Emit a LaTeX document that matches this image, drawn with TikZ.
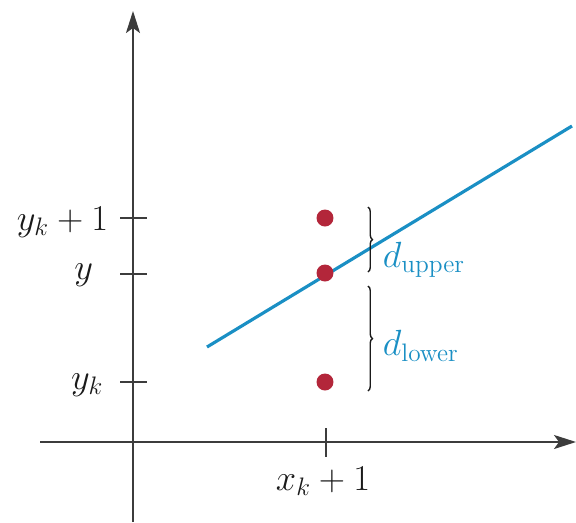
\documentclass[tikz,border=0pt]{standalone}
\usepackage{tikz}
\usetikzlibrary{positioning, arrows.meta, decorations.pathreplacing}
\definecolor{ink}{HTML}{1A1A1A}
\definecolor{lineBlue}{HTML}{1A8FC4}
\definecolor{dotRed}{HTML}{B3263A}

\begin{document}
\begin{tikzpicture}[x=0.02cm, y=-0.02cm,
    axis/.style={-{Stealth[length=0.44cm, width=0.28cm, inset=0.1cm]},
                 line width=1.1pt, draw=ink!85},
    tickmark/.style={line width=1.1pt, draw=ink!85},
    pt/.style={circle, fill=dotRed, inner sep=0pt, minimum size=0.34cm},
    lab/.style={font=\fontsize{22}{26}\selectfont, inner sep=2pt, text=ink},
    brc/.style={decorate, decoration={brace, amplitude=0.09cm},
                line width=0.8pt, draw=ink},
    dl/.style={lab, text=lineBlue, anchor=west},
    fit line/.style={line width=1.8pt, draw=lineBlue}]

  \useasboundingbox (0,0) rectangle (576,522);

  % axes
  \coordinate (xa) at (40,442);   \coordinate (xb) at (576,442);
  \coordinate (ya) at (133,522);  \coordinate (yb) at (133,11);
  \draw[axis] (xa) -- (xb);
  \draw[axis] (ya) -- (yb);

  % ticks and their labels
  \coordinate (t1) at (120,218);  \coordinate (t1e) at (147,218);
  \coordinate (t2) at (120,274);  \coordinate (t2e) at (147,274);
  \coordinate (t3) at (120,382);  \coordinate (t3e) at (147,382);
  \coordinate (tx) at (326,428);  \coordinate (txe) at (326,457);
  \draw[tickmark] (t1) -- (t1e);
  \draw[tickmark] (t2) -- (t2e);
  \draw[tickmark] (t3) -- (t3e);
  \draw[tickmark] (tx) -- (txe);
  \node[lab, anchor=east] (ykone) at (112,222) {$y_k + 1$};
  \node[lab, anchor=east] (ylab)  at (97,275)  {$y$};
  \node[lab, anchor=east] (yk)    at (107,385) {$y_k$};
  \node[lab]              (xkone) at (323,481) {$x_k + 1$};

  % line and candidate pixels
  \coordinate (la) at (207,347);  \coordinate (lb) at (572,126);
  \draw[fit line] (la) -- (lb);
  \node[pt] (upper) at (325,218) {};
  \node[pt] (mid)   at (325,273) {};
  \node[pt] (lower) at (325,382) {};

  % distances
  \coordinate (ua) at (368,207);  \coordinate (ub) at (368,272);
  \coordinate (wa) at (368,286);  \coordinate (wb) at (368,391);
  \draw[brc] (ua) -- (ub);
  \draw[brc] (wa) -- (wb);
  \node[dl] (dup)  at (379,260) {$d_{\mathrm{upper}}$};
  \node[dl] (dlow) at (379,346) {$d_{\mathrm{lower}}$};
\end{tikzpicture}
\end{document}
